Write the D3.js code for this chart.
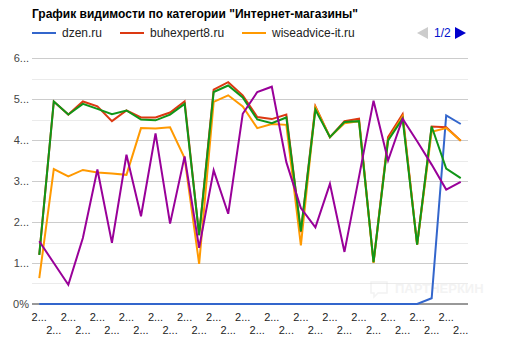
<!DOCTYPE html>
<html>
<head>
<meta charset="utf-8">
<script src="https://cdn.jsdelivr.net/npm/d3@7"></script>
<style>
  body { margin: 0; background: #fff; }
  text { font-family: Arial, "Liberation Sans", sans-serif; }
</style>
</head>
<body>
<div id="chart"></div>
<script>
const title = 'График видимости по категории "Интернет-магазины"';

// 30 dates, shown truncated on the axis
const xLabels = ["2...", "2...", "2...", "2...", "2...", "2...", "2...", "2...", "2...", "2...",
  "2...", "2...", "2...", "2...", "2...", "2...", "2...", "2...", "2...", "2...",
  "2...", "2...", "2...", "2...", "2...", "2...", "2...", "2...", "2...", "2..."];

const yTicks = [0, 1, 2, 3, 4, 5, 6];
const yTickLabels = ["0%", "1...", "2...", "3...", "4...", "5...", "6..."];

const seriesNames = ["dzen.ru", "buhexpert8.ru", "wiseadvice-it.ru", "site4", "site5"];
const seriesColors = ["#3366cc", "#dc3912", "#ff9900", "#109618", "#990099"];

const dzen = [0, 0, 0, 0, 0, 0, 0, 0, 0, 0, 0, 0, 0, 0, 0, 0, 0, 0, 0, 0,
  0, 0, 0, 0, 0, 0, 0, 0.14, 4.6, 4.39];
const buhexpert = [1.2, 4.94, 4.62, 4.94, 4.82, 4.46, 4.72, 4.55, 4.55, 4.67,
  4.94, 1.68, 5.23, 5.41, 5.09, 4.56, 4.51, 4.62, 1.75, 4.82,
  4.07, 4.46, 4.52, 1.02, 4.07, 4.63, 1.45, 4.33, 4.31, 3.98];
const wiseadvice = [0.63, 3.29, 3.11, 3.27, 3.21, 3.18, 3.15, 4.29, 4.28, 4.31,
  3.56, 0.98, 4.93, 5.09, 4.82, 4.29, 4.39, 4.37, 1.43, 4.8,
  4.07, 4.41, 4.46, 1.0, 4.0, 4.58, 1.45, 4.2, 4.29, 3.98];
const site4 = [1.2, 4.94, 4.62, 4.88, 4.76, 4.63, 4.72, 4.5, 4.48, 4.62,
  4.88, 1.68, 5.17, 5.33, 5.04, 4.5, 4.41, 4.55, 1.77, 4.74,
  4.07, 4.44, 4.46, 1.02, 3.99, 4.52, 1.45, 4.33, 3.3, 3.07];
const site5 = [1.53, 1.0, 0.47, 1.61, 3.28, 1.49, 3.64, 2.14, 4.16, 1.96,
  3.6, 1.37, 3.26, 2.2, 4.64, 5.17, 5.3, 3.46, 2.34, 1.87,
  2.93, 1.27, 3.1, 4.96, 3.5, 4.52, 3.97, 3.4, 2.79, 2.98];

const allSeries = [dzen, buhexpert, wiseadvice, site4, site5];

const W = 524, H = 351;
const margin = { top: 58, right: 56, bottom: 47, left: 32 };

const svg = d3.select("#chart").append("svg")
  .attr("width", W).attr("height", H);

const x = d3.scalePoint()
  .domain(d3.range(xLabels.length))
  .range([margin.left, W - margin.right])
  .padding(0.5);
const y = d3.scaleLinear().domain([0, 6]).range([H - margin.bottom, margin.top]);

// title
svg.append("text")
  .attr("x", 32).attr("y", 18)
  .attr("font-size", 12).attr("font-weight", "bold").attr("fill", "#000")
  .text(title);

// legend (page 1 of 2)
const legendX = [32, 120, 242];
const lg = svg.append("g");
seriesNames.slice(0, 3).forEach((name, i) => {
  lg.append("line")
    .attr("x1", legendX[i]).attr("x2", legendX[i] + 24)
    .attr("y1", 33).attr("y2", 33)
    .attr("stroke", seriesColors[i]).attr("stroke-width", 2);
  lg.append("text")
    .attr("x", legendX[i] + 30).attr("y", 37)
    .attr("font-size", 12).attr("fill", "#222")
    .text(name);
});
lg.append("path").attr("d", "M417,33L428,27L428,39Z").attr("fill", "#ccc");
lg.append("text").attr("x", 434).attr("y", 37)
  .attr("font-size", 12).attr("fill", "#0011cc").text("1/2");
lg.append("path").attr("d", "M466,33L455,27L455,39Z").attr("fill", "#0000cc");

// gridlines
const minor = [0.5, 1.5, 2.5, 3.5, 4.5, 5.5];
svg.append("g").selectAll("line").data(minor).join("line")
  .attr("x1", margin.left).attr("x2", W - margin.right)
  .attr("y1", d => Math.round(y(d)) + 0.5).attr("y2", d => Math.round(y(d)) + 0.5)
  .attr("stroke", "#ebebeb");
svg.append("g").selectAll("line").data(yTicks.slice(1)).join("line")
  .attr("x1", margin.left).attr("x2", W - margin.right)
  .attr("y1", d => Math.round(y(d)) + 0.5).attr("y2", d => Math.round(y(d)) + 0.5)
  .attr("stroke", "#cccccc");

// y labels
svg.append("g").selectAll("text").data(yTicks).join("text")
  .attr("x", 29).attr("y", d => y(d) + 4)
  .attr("text-anchor", "end")
  .attr("font-size", 11).attr("fill", "#444")
  .text((d, i) => yTickLabels[i]);

// baseline
svg.append("line")
  .attr("x1", margin.left).attr("x2", W - margin.right)
  .attr("y1", y(0)).attr("y2", y(0))
  .attr("stroke", "#333").attr("stroke-width", 1);

// x labels, staggered in two rows
svg.append("g").selectAll("text").data(xLabels).join("text")
  .attr("x", (d, i) => x(i))
  .attr("y", (d, i) => i % 2 === 0 ? 321 : 334)
  .attr("text-anchor", "middle")
  .attr("font-size", 11).attr("fill", "#222")
  .text(d => d);

// watermark
const wm = svg.append("g").attr("opacity", 0.35);
wm.append("path")
  .attr("d", "M371,282h16v11h-9l-4,4v-4h-3z")
  .attr("fill", "none").attr("stroke", "#ddd").attr("stroke-width", 1.5);
wm.append("text").attr("x", 395).attr("y", 293)
  .attr("font-size", 13).attr("font-weight", "bold").attr("fill", "#ddd")
  .text("ПАРТНЕРКИН");

// lines
const line = d3.line().x((d, i) => x(i)).y(d => y(d));
svg.append("g").selectAll("path").data(allSeries).join("path")
  .attr("d", line)
  .attr("fill", "none")
  .attr("stroke", (d, i) => seriesColors[i])
  .attr("stroke-width", 2);
</script>
</body>
</html>
